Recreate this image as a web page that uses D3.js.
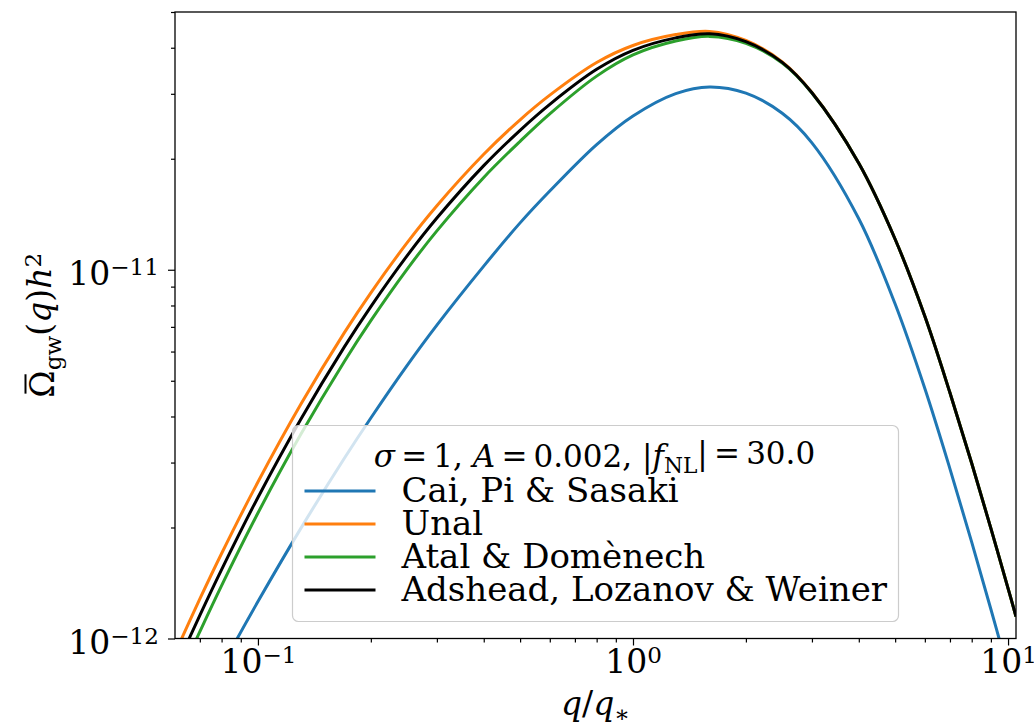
<!DOCTYPE html>
<html>
<head>
<meta charset="utf-8">
<script src="https://cdn.jsdelivr.net/npm/d3@7"></script>
<style>
  body { margin: 0; background: #fff; }
  svg text { font-family: "DejaVu Serif", serif; fill: #000; }
</style>
</head>
<body>
<div id="chart"></div>
<script>

// q / q_* sample points (shared by all curves)
var q = [0.06, 0.07, 0.08, 0.1, 0.13, 0.17, 0.2, 0.25, 0.3, 0.4, 0.5, 0.6, 0.8,
         1.0, 1.3, 1.6, 2.0, 2.5, 3.0, 4.0, 5.0, 6.0, 7.0, 8.0, 9.0, 10.0, 10.5];

// Omega_gw(q) h^2
var caiPiSasaki = [4.82e-13, 6.48e-13, 8.37e-13, 1.259e-12, 1.986e-12, 3.082e-12, 3.963e-12,
                   5.504e-12, 7.077e-12, 1.023e-11, 1.340e-11, 1.635e-11, 2.185e-11,
                   2.613e-11, 3.005e-11, 3.132e-11, 3.013e-11, 2.657e-11, 2.209e-11,
                   1.375e-11, 8.071e-12, 4.761e-12, 2.885e-12, 1.826e-12, 1.2005e-12, 8.175e-13, 6.84e-13];
var unal = [9.09e-13, 1.280e-12, 1.700e-12, 2.658e-12, 4.312e-12, 6.753e-12, 8.660e-12,
            1.184e-11, 1.491e-11, 2.056e-11, 2.551e-11, 2.975e-11, 3.647e-11,
            4.057e-11, 4.342e-11, 4.430e-11, 4.185e-11, 3.662e-11, 3.024e-11,
            1.944e-11, 1.210e-11, 7.477e-12, 4.638e-12, 2.988e-12, 1.989e-12, 1.368e-12, 1.147e-12];
var atalDomenech = [7.40e-13, 1.044e-12, 1.392e-12, 2.189e-12, 3.572e-12, 5.640e-12, 7.277e-12,
                    1.004e-11, 1.275e-11, 1.780e-11, 2.230e-11, 2.647e-11, 3.350e-11,
                    3.824e-11, 4.170e-11, 4.294e-11, 4.113e-11, 3.633e-11, 3.014e-11,
                    1.944e-11, 1.210e-11, 7.477e-12, 4.638e-12, 2.988e-12, 1.989e-12, 1.368e-12, 1.147e-12];
var adsheadLozanovWeiner = [8.20e-13, 1.156e-12, 1.538e-12, 2.413e-12, 3.927e-12, 6.177e-12, 7.946e-12,
                            1.092e-11, 1.381e-11, 1.916e-11, 2.389e-11, 2.809e-11, 3.495e-11,
                            3.935e-11, 4.254e-11, 4.364e-11, 4.154e-11, 3.651e-11, 3.020e-11,
                            1.944e-11, 1.210e-11, 7.477e-12, 4.638e-12, 2.988e-12, 1.989e-12, 1.368e-12, 1.147e-12];

var seriesNames = ["Cai, Pi & Sasaki", "Unal", "Atal & Domènech", "Adshead, Lozanov & Weiner"];
var seriesColors = ["#1f77b4", "#ff7f0e", "#2ca02c", "#000000"];
var seriesValues = [caiPiSasaki, unal, atalDomenech, adsheadLozanovWeiner];

var xMajor = [0.1, 1, 10];
var xMinor = [0.07, 0.08, 0.09, 0.2, 0.3, 0.4, 0.5, 0.6, 0.7, 0.8, 0.9, 2, 3, 4, 5, 6, 7, 8, 9];
var yMajor = [1e-12, 1e-11];
var yMinor = [2e-12, 3e-12, 4e-12, 5e-12, 6e-12, 7e-12, 8e-12, 9e-12, 2e-11, 3e-11, 4e-11, 5e-11];


var W = 1034, H = 727;
var margin = {top: 12, right: 18, bottom: 88.5, left: 175};
var width = W - margin.left - margin.right,
    height = H - margin.top - margin.bottom;

var svg = d3.select("#chart").append("svg")
    .attr("width", W)
    .attr("height", H);

var g = svg.append("g")
    .attr("transform", "translate(" + margin.left + "," + margin.top + ")");

var x = d3.scaleLog().domain([0.0601, 10.5]).range([0, width]);
var y = d3.scaleLog().domain([1e-12, 5.0e-11]).range([height, 0]);

function expOf(v) {
    var e = Math.round(Math.log10(v));
    return e < 0 ? "\u2212" + (-e) : "" + e;
}

// power-of-ten label as "10" + superscript
function powLabel(sel) {
    sel.each(function(d) {
        var t = d3.select(this);
        t.text(null);
        t.append("tspan").text("10");
        t.append("tspan").attr("dy", "-0.42em").attr("font-size", "0.7em").text(expOf(d));
    });
}

// clip for the curves
svg.append("defs").append("clipPath").attr("id", "plotclip")
  .append("rect").attr("width", width).attr("height", height);

var line = d3.line()
    .x(function(d) { return x(d[0]); })
    .y(function(d) { return y(d[1]); })
    .curve(d3.curveCatmullRom.alpha(0.5));

var curves = g.append("g").attr("clip-path", "url(#plotclip)");
seriesValues.forEach(function(vals, i) {
    curves.append("path")
        .datum(q.map(function(v, j) { return [v, vals[j]]; }))
        .attr("fill", "none")
        .attr("stroke", seriesColors[i])
        .attr("stroke-width", 3)
        .attr("stroke-linejoin", "round")
        .attr("d", line);
});

// axes: major ticks with labels, then minor ticks without
var xAxis = g.append("g")
    .attr("transform", "translate(0," + height + ")")
    .attr("font-family", "DejaVu Serif").attr("font-size", 33);
xAxis.append("g")
    .call(d3.axisBottom(x).tickValues(xMajor).tickSize(7).tickPadding(4).tickSizeOuter(0))
    .call(function(a) { a.selectAll(".tick text").call(powLabel); });
xAxis.append("g")
    .call(d3.axisBottom(x).tickValues(xMinor).tickSize(4).tickFormat("").tickSizeOuter(0));

var yAxis = g.append("g")
    .attr("font-family", "DejaVu Serif").attr("font-size", 33);
yAxis.append("g")
    .call(d3.axisLeft(y).tickValues(yMajor).tickSize(7).tickPadding(9).tickSizeOuter(0))
    .call(function(a) { a.selectAll(".tick text").attr("dy", "0.45em").call(powLabel); });
yAxis.append("g")
    .call(d3.axisLeft(y).tickValues(yMinor).tickSize(4).tickFormat("").tickSizeOuter(0));

[xAxis, yAxis].forEach(function(a) {
    a.selectAll("g").attr("font-family", null).attr("font-size", null);
    a.selectAll("line").attr("stroke", "#000").attr("stroke-width", 1.2);
    a.selectAll(".domain").remove();
});

// frame
g.append("rect")
    .attr("width", width).attr("height", height)
    .attr("fill", "none").attr("stroke", "#000").attr("stroke-width", 1.3);

// axis labels
var xl = svg.append("text")
    .attr("x", margin.left + width / 2).attr("y", 715)
    .attr("text-anchor", "middle").attr("font-size", 33);
xl.append("tspan").attr("font-style", "italic").text("q");
xl.append("tspan").text("/");
xl.append("tspan").attr("font-style", "italic").text("q");
xl.append("tspan").attr("font-size", "0.7em").attr("dy", "0.3em").text("\u2217");

var ylg = svg.append("g")
    .attr("transform", "translate(54," + (margin.top + height / 2) + ") rotate(-90)");
var yl = ylg.append("text")
    .attr("text-anchor", "middle").attr("font-size", 33);
yl.append("tspan").text("\u03A9");
yl.append("tspan").attr("font-size", "0.7em").attr("dy", "0.3em").text("gw");
yl.append("tspan").attr("dy", "-0.3em").text("(");
yl.append("tspan").attr("font-style", "italic").text("q");
yl.append("tspan").text(")");
yl.append("tspan").attr("font-style", "italic").text("h");
yl.append("tspan").attr("font-size", "0.7em").attr("dy", "-0.45em").text("2");
// bar over Omega
var om = yl.node().getExtentOfChar(0);
ylg.append("line")
    .attr("x1", om.x + 4).attr("x2", om.x + om.width - 4)
    .attr("y1", -28.5).attr("y2", -28.5)
    .attr("stroke", "#000").attr("stroke-width", 2);

// legend
var lg = svg.append("g").attr("transform", "translate(292.5,425.5)");
lg.append("rect")
    .attr("width", 606).attr("height", 196).attr("rx", 6)
    .attr("fill", "#fff").attr("fill-opacity", 0.8)
    .attr("stroke", "#cccccc").attr("stroke-width", 1.2);

var title = lg.append("text")
    .attr("x", 302).attr("y", 41).attr("text-anchor", "middle").attr("font-size", 31);
title.append("tspan").attr("font-style", "italic").text("\u03C3");
title.append("tspan").text("\u2009=\u20091, ");
title.append("tspan").attr("font-style", "italic").text("A");
title.append("tspan").text("\u2009=\u20090.002, |");
title.append("tspan").attr("font-style", "italic").text("f");
title.append("tspan").attr("font-size", "0.7em").attr("dy", "0.3em").text("NL");
title.append("tspan").attr("dy", "-0.3em").text("|\u2009=\u200930.0");

seriesNames.forEach(function(name, i) {
    var yy = 65.5 + i * 33;
    lg.append("line")
        .attr("x1", 12).attr("x2", 83).attr("y1", yy).attr("y2", yy)
        .attr("stroke", seriesColors[i]).attr("stroke-width", 3);
    lg.append("text")
        .attr("x", 109).attr("y", yy + 11)
        .attr("font-size", 34)
        .text(name);
});

</script>
</body>
</html>
